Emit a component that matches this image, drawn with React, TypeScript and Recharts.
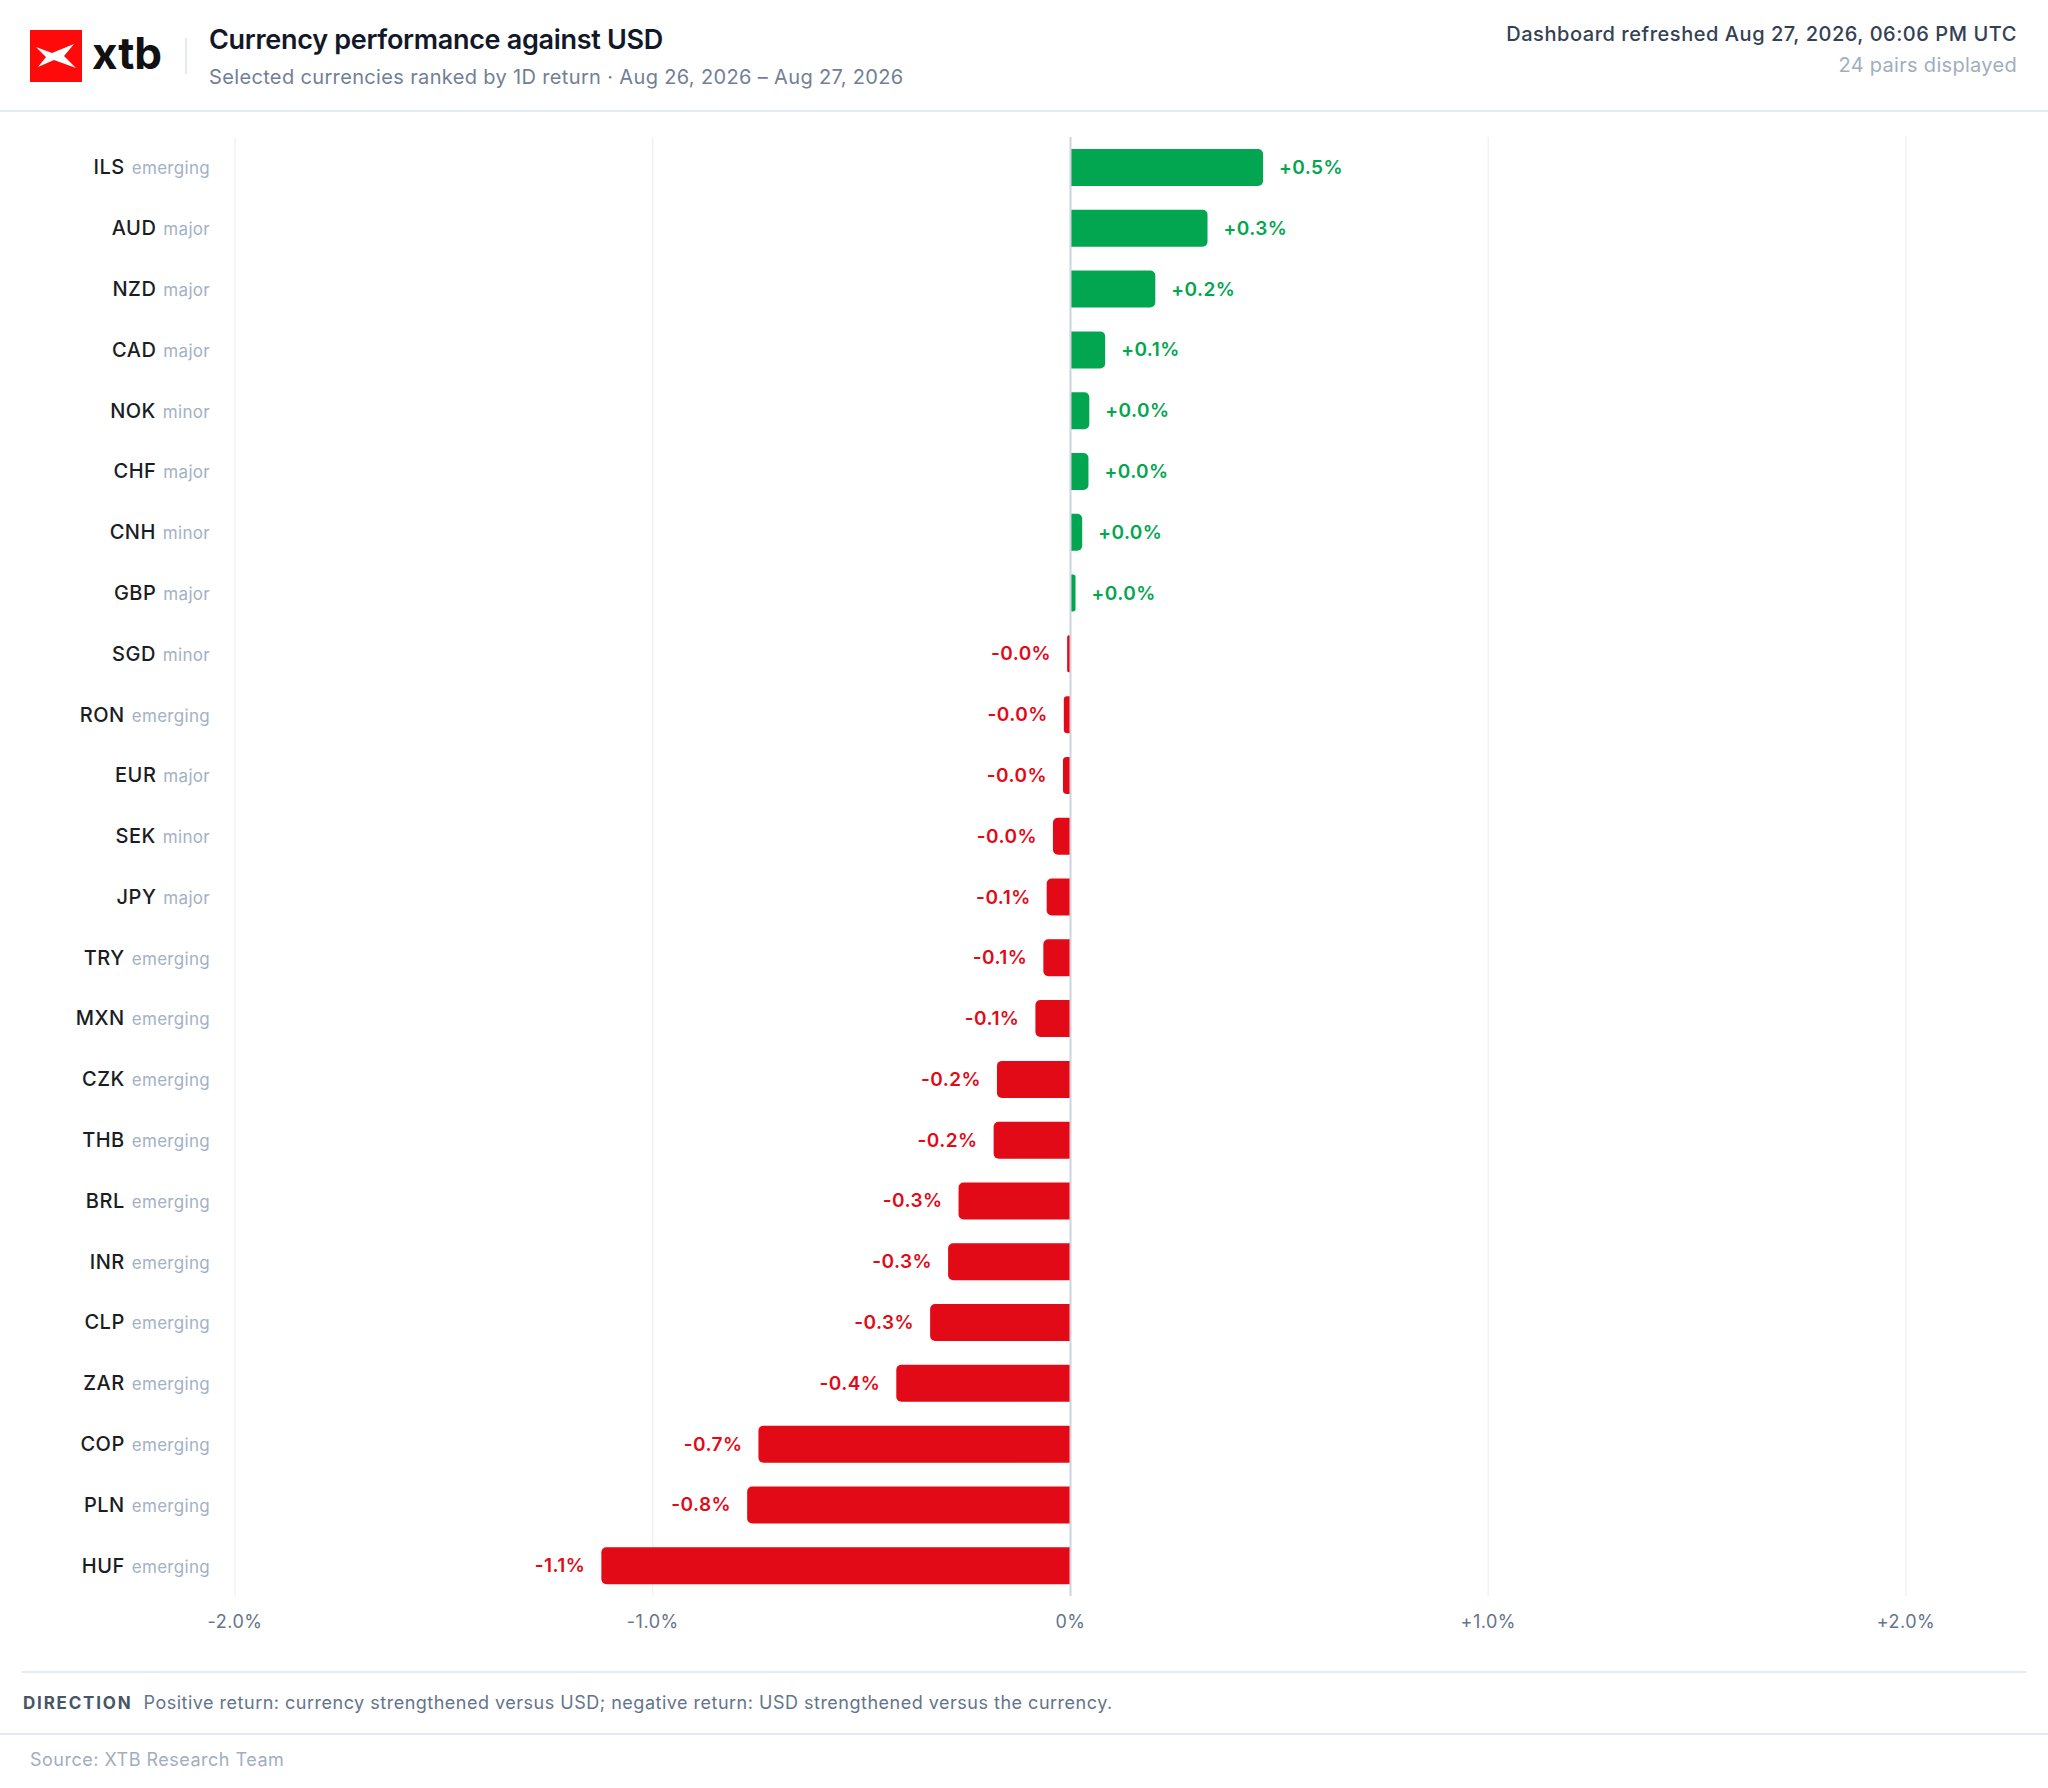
import React from 'react';
import {
  BarChart, Bar, XAxis, YAxis, CartesianGrid, ReferenceLine, Cell, LabelList, Rectangle,
} from 'recharts';

const CURRENCIES = ['ILS', 'AUD', 'NZD', 'CAD', 'NOK', 'CHF', 'CNH', 'GBP', 'SGD', 'RON', 'EUR', 'SEK',
  'JPY', 'TRY', 'MXN', 'CZK', 'THB', 'BRL', 'INR', 'CLP', 'ZAR', 'COP', 'PLN', 'HUF'];
const TIERS = ['emerging', 'major', 'major', 'major', 'minor', 'major', 'minor', 'major', 'minor', 'emerging',
  'major', 'minor', 'major', 'emerging', 'emerging', 'emerging', 'emerging', 'emerging', 'emerging',
  'emerging', 'emerging', 'emerging', 'emerging', 'emerging'];
const RETURNS_1D = [0.461, 0.328, 0.203, 0.083, 0.045, 0.043, 0.028, 0.012, -0.008, -0.016, -0.018, -0.042,
  -0.057, -0.065, -0.084, -0.176, -0.184, -0.268, -0.293, -0.336, -0.417, -0.747, -0.774, -1.123];
const X_TICKS = [-2, -1, 0, 1, 2];

const GREEN = '#02a650';
const RED = '#e30a17';
const FONT = 'Inter, "Noto Sans", sans-serif';

const data = CURRENCIES.map((code, i) => ({ code, tier: TIERS[i], value: RETURNS_1D[i] }));

const fmtTick = (v: number) => (v === 0 ? '0%' : `${v > 0 ? '+' : '-'}${Math.abs(v).toFixed(1)}%`);
const fmtValue = (v: number) => `${v >= 0 ? '+' : '-'}${Math.abs(v).toFixed(1)}%`;

const CurrencyTick = (props: any) => {
  const { x, y, payload } = props;
  const row = data.find((d) => d.code === payload.value);
  return (
    <text x={x} y={y} dy={7} textAnchor="end" fontFamily={FONT}>
      <tspan fontSize={20} fontWeight={500} fill="#1a1d23" letterSpacing={0.5}>{payload.value}</tspan>
      <tspan fontSize={17} fill="#a3b1c6" dx={7} letterSpacing={0.3}>{row ? row.tier : ''}</tspan>
    </text>
  );
};

// round only the outer end of each bar, whichever side of zero it sits on
const RoundedBar = (props: any) => {
  const { x, y, width, height, fill, payload } = props;
  const left = Math.min(x, x + width);
  const w = Math.abs(width);
  const r = Math.min(5, w / 2);
  const neg = payload && payload.value < 0;
  return (
    <Rectangle x={left} y={y} width={w} height={height} fill={fill}
      radius={neg ? [r, 0, 0, r] : [0, r, r, 0]} />
  );
};

const ValueLabel = (props: any) => {
  const { x, y, width, height, value } = props;
  const pos = value >= 0;
  const end = x + width;
  return (
    <text
      x={pos ? Math.max(end, x) + 16 : Math.min(end, x) - 16}
      y={y + height / 2}
      dy={6.5}
      textAnchor={pos ? 'start' : 'end'}
      fontFamily={FONT}
      fontSize={19}
      fontWeight={600}
      letterSpacing={0.45}
      fill={pos ? GREEN : RED}
    >
      {fmtValue(value)}
    </text>
  );
};

const Logo = () => (
  <svg width={52} height={52} viewBox="0 0 52 52" style={{ position: 'absolute', left: 30, top: 30 }}>
    <rect width={52} height={52} fill="#ff0a0a" />
    <polygon points="6,17 22,23 44,14 34,26 46,38 24,30 8,37 16,27" fill="#fff" />
  </svg>
);

export default function App() {
  return (
    <div style={{ position: 'relative', width: 2048, height: 1788, background: '#fff', fontFamily: FONT, overflow: 'hidden' }}>
      <style>{'body{margin:0}'}</style>
      <Logo />
      <div style={{ position: 'absolute', left: 92, top: 26, fontSize: 44, fontWeight: 700, color: '#111', letterSpacing: 0 }}>xtb</div>
      <div style={{ position: 'absolute', left: 185, top: 38, width: 2, height: 36, background: '#e5e9f0' }} />
      <div style={{ position: 'absolute', left: 209, top: 23, fontSize: 27, fontWeight: 600, color: '#111827', letterSpacing: -0.3 }}>
        Currency performance against USD
      </div>
      <div style={{ position: 'absolute', left: 209, top: 65, fontSize: 20, color: '#718096', letterSpacing: 0.35 }}>
        Selected currencies ranked by 1D return · Aug 26, 2026 – Aug 27, 2026
      </div>
      <div style={{ position: 'absolute', right: 31, top: 22, fontSize: 20, fontWeight: 500, color: '#334155', textAlign: 'right', letterSpacing: 0.55 }}>
        Dashboard refreshed Aug 27, 2026, 06:06 PM UTC
      </div>
      <div style={{ position: 'absolute', right: 31, top: 53, fontSize: 20, color: '#a0aec0', textAlign: 'right', letterSpacing: 0.3 }}>
        24 pairs displayed
      </div>
      <div style={{ position: 'absolute', left: 0, top: 110, width: 2048, height: 2, background: '#e5e9f0' }} />

      <div style={{ position: 'absolute', left: 0, top: 112 }}>
        <BarChart
          width={2048}
          height={1560}
          data={data}
          layout="vertical"
          margin={{ top: 25, right: 142, bottom: 0, left: 0 }}
        >
          <CartesianGrid horizontal={false} stroke="#f0f2f5" strokeWidth={1.5} />
          <XAxis
            type="number"
            domain={[-2, 2]}
            ticks={X_TICKS}
            tickFormatter={fmtTick}
            axisLine={false}
            tickLine={false}
            tickSize={0}
            tickMargin={19}
            height={76}
            tick={{ fontSize: 18, fill: '#64748b', fontFamily: FONT, letterSpacing: 0.5 }}
          />
          <YAxis
            type="category"
            dataKey="code"
            width={235}
            axisLine={false}
            tickLine={false}
            tickSize={0}
            tickMargin={25}
            interval={0}
            tick={<CurrencyTick />}
          />
          <ReferenceLine x={0} stroke="#cfd5de" strokeWidth={2} />
          <Bar dataKey="value" barSize={37} shape={<RoundedBar />} isAnimationActive={false}>
            {data.map((d) => (
              <Cell key={d.code} fill={d.value >= 0 ? GREEN : RED} />
            ))}
            <LabelList dataKey="value" content={<ValueLabel />} />
          </Bar>
        </BarChart>
      </div>

      <div style={{ position: 'absolute', left: 22, top: 1671, width: 2004, height: 2, background: '#e5e9f0' }} />
      <div style={{ position: 'absolute', left: 23, top: 1692, fontSize: 18, color: '#64748b', whiteSpace: 'nowrap', letterSpacing: 0.5 }}>
        <span style={{ fontSize: 17, fontWeight: 700, color: '#475569', letterSpacing: 1.8, marginRight: 11 }}>DIRECTION</span>
        Positive return: currency strengthened versus USD; negative return: USD strengthened versus the currency.
      </div>
      <div style={{ position: 'absolute', left: 0, top: 1733, width: 2048, height: 2, background: '#e5e9f0' }} />
      <div style={{ position: 'absolute', left: 30, top: 1749, fontSize: 18, color: '#a0aec0', letterSpacing: 0.5 }}>Source: XTB Research Team</div>
    </div>
  );
}
